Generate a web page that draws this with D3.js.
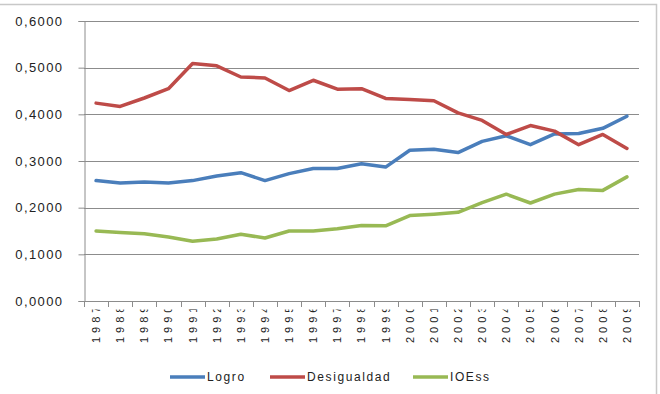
<!DOCTYPE html>
<html>
<head>
<meta charset="utf-8">
<script src="https://cdn.jsdelivr.net/npm/d3@7"></script>
<style>
  body { margin: 0; background: #fff; }
  text { font-family: "Liberation Sans", Arial, sans-serif; fill: #222; }
</style>
</head>
<body>
<div id="chart"></div>
<script>
// Data
const years = ['1987','1988','1989','1990','1991','1992','1993','1994','1995','1996','1997','1998',
  '1999','2000','2001','2002','2003','2004','2005','2006','2007','2008','2009'];
const logro = [0.258,0.253,0.255,0.253,0.258,0.268,0.275,0.258,0.273,0.284,0.284,0.294,
  0.287,0.323,0.325,0.318,0.342,0.354,0.335,0.358,0.359,0.370,0.396];
const desigualdad = [0.424,0.417,0.435,0.455,0.509,0.504,0.480,0.478,0.451,0.473,0.454,0.455,
  0.434,0.432,0.429,0.403,0.387,0.357,0.376,0.364,0.335,0.357,0.327];
const ioess = [0.150,0.147,0.144,0.137,0.128,0.133,0.143,0.135,0.150,0.150,0.155,0.162,
  0.161,0.183,0.186,0.190,0.211,0.229,0.210,0.229,0.239,0.237,0.266];
const yTicks = [0, 0.1, 0.2, 0.3, 0.4, 0.5, 0.6];
const seriesNames = ['Logro', 'Desigualdad', 'IOEss'];
const seriesColors = ['#4a7ebb', '#be4b48', '#98b954'];

const width = 660, height = 394;
const margin = {top: 21, right: 21, bottom: 93, left: 84};

const svg = d3.select('#chart').append('svg')
  .attr('width', width)
  .attr('height', height);

// outer frame (top and right edges visible)
svg.append('path')
  .attr('d', `M0,4.5H656.5V${height}`)
  .attr('fill', 'none')
  .attr('stroke', '#c8c8c8')
  .attr('stroke-width', 1.5);

const x = d3.scaleBand().domain(years).range([margin.left, width - margin.right]);
const y = d3.scaleLinear().domain([0, 0.6]).range([height - margin.bottom, margin.top]);
const fmt = v => d3.format('.4f')(v).replace('.', ',');

// gridlines
svg.append('g')
  .selectAll('line')
  .data(yTicks.slice(1))
  .enter().append('line')
  .attr('x1', margin.left)
  .attr('x2', width - margin.right)
  .attr('y1', d => Math.round(y(d)) + 0.5)
  .attr('y2', d => Math.round(y(d)) + 0.5)
  .attr('stroke', '#8c8c8c')
  .attr('stroke-width', 1);

// y axis
const yAxis = svg.append('g')
  .attr('transform', `translate(${margin.left + 0.5},0)`)
  .call(d3.axisLeft(y).tickValues(yTicks).tickFormat(fmt).tickSize(6).tickPadding(15));
yAxis.selectAll('path, line').attr('stroke', '#8c8c8c');
yAxis.selectAll('text')
  .attr('font-size', 13)
  .style('letter-spacing', '1.4px')
  .attr('fill', '#222')
  .attr('font-family', '"Liberation Sans", Arial, sans-serif');

// x axis line and ticks at category boundaries
const x0 = y(0);
const xg = svg.append('g');
xg.append('line')
  .attr('x1', margin.left).attr('x2', width - margin.right)
  .attr('y1', Math.round(x0) + 0.5).attr('y2', Math.round(x0) + 0.5)
  .attr('stroke', '#8c8c8c');
xg.selectAll('line.tick')
  .data(years.concat(['end']))
  .enter().append('line')
  .attr('class', 'tick')
  .attr('x1', (d, i) => Math.round(margin.left + i * x.bandwidth()) + 0.5)
  .attr('x2', (d, i) => Math.round(margin.left + i * x.bandwidth()) + 0.5)
  .attr('y1', Math.round(x0))
  .attr('y2', Math.round(x0) + 6)
  .attr('stroke', '#8c8c8c');

// rotated year labels, spaced out, last digit cut off as in the original
svg.append('clipPath').attr('id', 'lab-clip')
  .append('rect')
  .attr('x', 0).attr('y', 309.5).attr('width', width).attr('height', 60);
xg.append('g').attr('clip-path', 'url(#lab-clip)')
  .selectAll('text')
  .data(years)
  .enter().append('text')
  .attr('transform', d => `translate(${x(d) + x.bandwidth() / 2},343) rotate(-90)`)
  .attr('dy', '0.36em')
  .attr('dx', '0 4 4 4')
  .attr('font-size', 11)
  .text(d => d);

// lines
const line = d3.line()
  .x((d, i) => x(years[i]) + x.bandwidth() / 2)
  .y(d => y(d));
[logro, desigualdad, ioess].forEach((s, k) => {
  svg.append('path')
    .datum(s)
    .attr('d', line)
    .attr('fill', 'none')
    .attr('stroke', seriesColors[k])
    .attr('stroke-width', 3.5)
    .attr('stroke-linejoin', 'round')
    .attr('stroke-linecap', 'round');
});

// legend
const legendX = [170, 270, 413];
const lg = svg.append('g').attr('transform', 'translate(0,377)');
seriesNames.forEach((name, k) => {
  lg.append('line')
    .attr('x1', legendX[k]).attr('x2', legendX[k] + 35)
    .attr('y1', 0).attr('y2', 0)
    .attr('stroke', seriesColors[k])
    .attr('stroke-width', 3.5);
  lg.append('text')
    .attr('x', legendX[k] + 37)
    .attr('y', 0)
    .attr('dy', '0.36em')
    .attr('font-size', 12)
    .style('letter-spacing', '1.6px')
    .text(name);
});
</script>
</body>
</html>
